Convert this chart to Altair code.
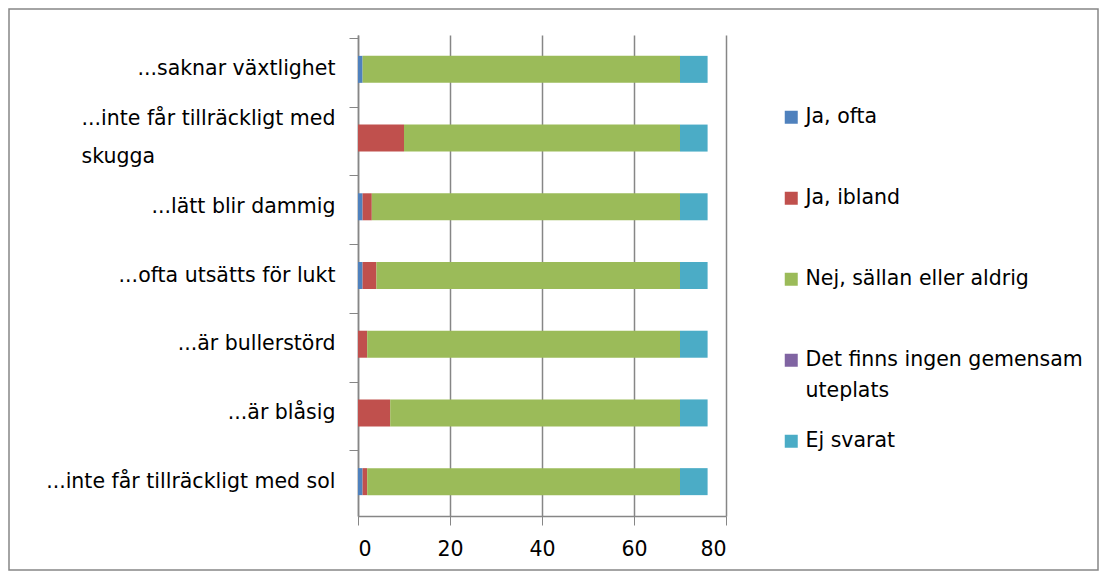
import altair as alt
import pandas as pd

categories = [
    "...saknar växtlighet",
    "...inte får tillräckligt med skugga",
    "...lätt blir dammig",
    "...ofta utsätts för lukt",
    "...är bullerstörd",
    "...är blåsig",
    "...inte får tillräckligt med sol",
]
series = ["Ja, ofta", "Ja, ibland", "Nej, sällan eller aldrig",
          "Det finns ingen gemensam uteplats", "Ej svarat"]
colors = ["#4F81BD", "#C0504D", "#9BBB59", "#8064A2", "#4BACC6"]

ja_ofta = [1, 0, 1, 1, 0, 0, 1]
ja_ibland = [0, 10, 2, 3, 2, 7, 1]
nej = [69, 60, 67, 66, 68, 63, 68]
ingen = [0, 0, 0, 0, 0, 0, 0]
ej_svarat = [6, 6, 6, 6, 6, 6, 6]

values = [ja_ofta, ja_ibland, nej, ingen, ej_svarat]
rows = []
for si, (s, vals) in enumerate(zip(series, values)):
    for c, v in zip(categories, vals):
        rows.append({"kategori": c, "serie": s, "ordning": si, "varde": v})
df = pd.DataFrame(rows)

FONT = "DejaVu Sans"
FS = 20.5
GRAY = "#868686"
LONG = "...inte får tillräckligt med skugga"
IS_LONG = "datum.label == '" + LONG + "'"

label_expr = (
    IS_LONG + " ? ['...inte får tillräckligt med', 'skugga'] : datum.label"
)
legend_expr = (
    "datum.label == 'Det finns ingen gemensam uteplats' ? "
    "['Det finns ingen gemensam', 'uteplats'] : datum.label"
)
offset_cond = {"condition": {"test": IS_LONG, "value": -19}, "value": 0}
align_cond = {"condition": {"test": IS_LONG, "value": "left"}, "value": "right"}
pad_cond = {"condition": {"test": IS_LONG, "value": 268}, "value": 14}

W, H = 368, 481
PL, PT, PR, PB = 350, 27, 373, 55

bars = alt.Chart(df).mark_bar(size=27).encode(
    y=alt.Y("kategori:N", sort=categories, title=None,
            axis=alt.Axis(labelExpr=label_expr, bandPosition=0,
                          labelLineHeight=38, labelPadding=pad_cond,
                          labelAlign=align_cond,
                          labelLimit=400, labelOffset=offset_cond)),
    x=alt.X("varde:Q", stack="zero", title=None,
            scale=alt.Scale(domain=[0, 80], nice=False),
            axis=alt.Axis(values=[0, 20, 40, 60, 80], grid=True,
                          gridColor=GRAY, gridWidth=1.5, labelPadding=14)),
    color=alt.Color("serie:N", sort=series,
                    scale=alt.Scale(domain=series, range=colors),
                    legend=alt.Legend(title=None, orient="none",
                                      legendX=423, legendY=72,
                                      symbolType="square", symbolSize=169,
                                      symbolStrokeWidth=0,
                                      labelExpr=legend_expr,
                                      gridAlign="all",
                                      rowPadding=29, labelLimit=400)),
    order=alt.Order("ordning:Q"),
)

border = alt.Chart(pd.DataFrame({"a": [0]})).mark_rect(
    filled=False, stroke=GRAY, strokeWidth=1.5
).encode(
    x=alt.value(-PL + 1), x2=alt.value(W + PR - 1),
    y=alt.value(-PT + 1), y2=alt.value(H + PB - 1),
)

chart = alt.layer(border, bars).properties(
    width=W, height=H,
    padding={"left": PL, "top": PT, "right": PR, "bottom": PB},
    autosize=alt.AutoSizeParams(type="none"),
    background="white",
).configure(
    style={"guide-label": {"lineHeight": 31}}
).configure_view(stroke=None).configure_axis(
    labelFont=FONT, labelFontSize=FS, labelColor="black",
    domainColor=GRAY, tickColor=GRAY, tickSize=9, domainWidth=1.5,
    grid=False,
).configure_axisX(grid=True).configure_legend(
    labelFont=FONT, labelFontSize=FS, labelColor="black",
)

chart.save("out.html", embed_options={"renderer": "svg", "actions": False})
